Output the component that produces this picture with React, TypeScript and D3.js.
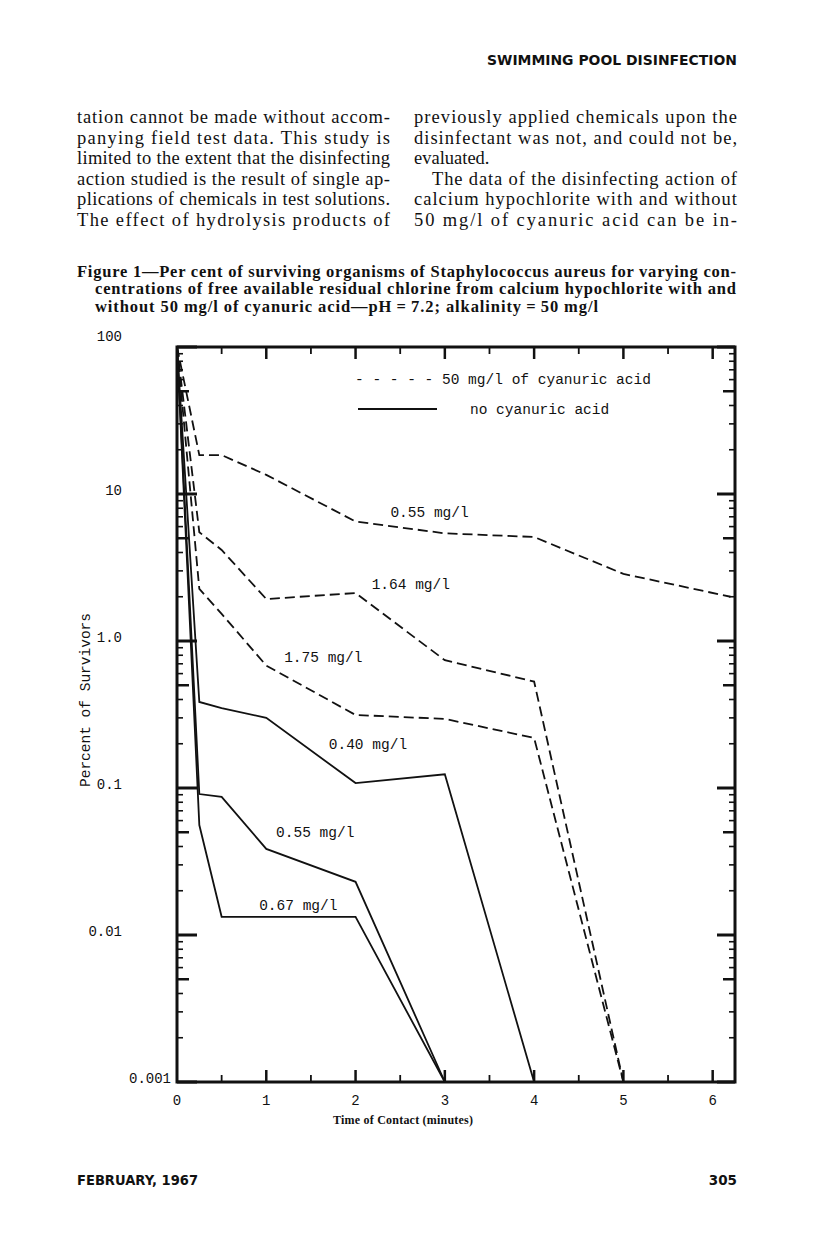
import React from "react";
import * as d3 from "d3";

// time of contact (minutes) for each curve
const timesCya055 = [0, 0.25, 0.5, 1, 2, 3, 4, 5, 6.2];
const timesCya = [0, 0.25, 0.5, 1, 2, 3, 4, 5];
const timesNo040 = [0, 0.25, 0.5, 1, 2, 3, 4];
const timesNo = [0, 0.25, 0.5, 1, 2, 3];

// per cent of survivors, 50 mg/l cyanuric acid (dashed)
const cya055 = [100, 18.4, 18.4, 13.5, 6.5, 5.4, 5.1, 2.86, 2.0];
const cya164 = [100, 5.5, 4.16, 1.93, 2.12, 0.74, 0.53, 0.001];
const cya175 = [100, 2.26, 1.53, 0.68, 0.314, 0.295, 0.219, 0.001];

// per cent of survivors, no cyanuric acid (solid)
const no040 = [100, 0.385, 0.35, 0.3, 0.108, 0.124, 0.001];
const no055 = [100, 0.091, 0.087, 0.0385, 0.023, 0.001];
const no067 = [100, 0.056, 0.0133, 0.0133, 0.0133, 0.001];

// curve labels: text, time, per cent
const curveLabels = ["0.55 mg/l", "1.64 mg/l", "1.75 mg/l", "0.40 mg/l", "0.55 mg/l", "0.67 mg/l"];
const labelTimes = [2.39, 2.18, 1.2, 1.7, 1.11, 0.92];
const labelValues = [6.97, 2.26, 0.72, 0.184, 0.0465, 0.0148];

const xTickLabels = ["0", "1", "2", "3", "4", "5", "6"];
const yDecades = [100, 10, 1, 0.1, 0.01, 0.001];
const yTickLabels = ["100", "10", "1.0", "0.1", "0.01", "0.001"];

const leftCol = [
  "tation cannot be made without accom-",
  "panying field test data. This study is",
  "limited to the extent that the disinfecting",
  "action studied is the result of single ap-",
  "plications of chemicals in test solutions.",
  "The effect of hydrolysis products of",
];
const rightCol = [
  "previously applied chemicals upon the",
  "disinfectant was not, and could not be,",
  "evaluated.",
  "The data of the disinfecting action of",
  "calcium hypochlorite with and without",
  "50 mg/l of cyanuric acid can be in-",
];
const caption = [
  "Figure 1\u2014Per cent of surviving organisms of Staphylococcus aureus for varying con-",
  "centrations of free available residual chlorine from calcium hypochlorite with and",
  "without 50 mg/l of cyanuric acid\u2014pH\u2009=\u20097.2; alkalinity\u2009=\u200950 mg/l",
];

const mono = "'Liberation Mono', 'DejaVu Sans Mono', monospace";
const serif = "'Liberation Serif', 'DejaVu Serif', serif";
const sans = "'DejaVu Sans', 'Liberation Sans', sans-serif";

export default function App() {
  const x = d3.scaleLinear().domain([0, 6.25]).range([177, 735]);
  const y = d3.scaleLog().domain([0.001, 100]).range([1082, 347]);
  const [x0, x1] = x.range();
  const [yb, yt] = y.range();

  const line = d3
    .line<[number, number]>()
    .x((d) => x(d[0]))
    .y((d) => y(d[1]));

  const zip = (ts: number[], vs: number[]) => ts.map((t, i) => [t, vs[i]] as [number, number]);

  const dashed = [zip(timesCya055, cya055), zip(timesCya, cya164), zip(timesCya, cya175)];
  const solid = [zip(timesNo040, no040), zip(timesNo, no055), zip(timesNo, no067)];

  // minor + major ticks on the log axis
  const yTicks: { v: number; k: number }[] = [];
  for (const dec of [0.001, 0.01, 0.1, 1, 10]) {
    for (let k = 1; k <= 9; k++) yTicks.push({ v: dec * k, k });
  }
  yTicks.push({ v: 100, k: 1 });
  const tickLen = (k: number) => (k === 1 ? 20 : k === 5 ? 12 : 6);
  const tickW = (k: number) => (k === 1 ? 3 : k === 5 ? 2.5 : 1.6);

  const xTicks = d3.range(1, 13).map((i) => i * 0.5);

  return (
    <svg
      width={816}
      height={1236}
      style={{ position: "absolute", left: 0, top: 0, background: "#fff" }}
    >
      <rect width={816} height={1236} fill="#fff" />

      {/* running header */}
      <text x={737} y={65} textAnchor="end" fontFamily={sans} fontWeight="bold" fontSize={13.5}
        textLength={250} lengthAdjust="spacingAndGlyphs" fill="#111">
        SWIMMING POOL DISINFECTION
      </text>

      {/* body text */}
      <g fontFamily={serif} fontSize={18.5} fill="#111">
        {leftCol.map((s, i) => (
          <text key={i} x={77} y={123 + i * 20.6} textLength={313} lengthAdjust="spacing">{s}</text>
        ))}
        {rightCol.map((s, i) => {
          const xs = i === 3 ? 432 : 414;
          const justify = i !== 2;
          return (
            <text key={i} x={xs} y={123 + i * 20.6}
              {...(justify ? { textLength: 737 - xs, lengthAdjust: "spacing" } : {})}>{s}</text>
          );
        })}
      </g>

      {/* caption */}
      <g fontFamily={serif} fontSize={16.5} fontWeight="bold" fill="#111">
        {caption.map((s, i) => {
          const xs = i === 0 ? 77 : 95;
          const xe = i < 2 ? 736 : 598;
          return (
            <text key={i} x={xs} y={277 + i * 17.3} textLength={xe - xs} lengthAdjust="spacing">{s}</text>
          );
        })}
      </g>

      {/* chart frame */}
      <rect x={x0} y={yt} width={x1 - x0} height={yb - yt} fill="none" stroke="#111" strokeWidth={3} />

      {/* y ticks, left and right, pointing inward */}
      {yTicks.map((d, i) => (
        <g key={i} stroke="#111" strokeWidth={tickW(d.k)}>
          <line x1={x0} x2={x0 + tickLen(d.k)} y1={y(d.v)} y2={y(d.v)} />
          <line x1={x1} x2={x1 - tickLen(d.k) + (d.k === 1 ? 2 : 0)} y1={y(d.v)} y2={y(d.v)} />
        </g>
      ))}

      {/* x ticks, top and bottom */}
      {xTicks.map((t, i) => {
        const major = Number.isInteger(t);
        const len = major ? 12 : 7;
        return (
          <g key={i} stroke="#111" strokeWidth={major ? 2.5 : 1.8}>
            <line x1={x(t)} x2={x(t)} y1={yt} y2={yt + len} />
            <line x1={x(t)} x2={x(t)} y1={yb} y2={yb - len} />
          </g>
        );
      })}

      {/* tick labels */}
      <g fontFamily={mono} fontSize={14} fill="#111">
        {yDecades.map((v, i) => (
          <text key={i} x={v === 0.001 ? 171 : 122} y={y(v) + (v === 100 ? -6 : 1)} textAnchor="end">
            {yTickLabels[i]}
          </text>
        ))}
        {xTickLabels.map((s, i) => (
          <text key={i} x={x(i)} y={1105} textAnchor="middle">{s}</text>
        ))}
      </g>

      {/* axis titles */}
      <text transform="translate(90,700) rotate(-90)" textAnchor="middle" fontFamily={mono}
        fontSize={14.5} fill="#111">
        Percent of Survivors
      </text>
      <text x={403} y={1124} textAnchor="middle" fontFamily={serif} fontWeight="bold" fontSize={12}
        textLength={140} lengthAdjust="spacing" fill="#111">
        Time of Contact (minutes)
      </text>

      {/* curves */}
      {dashed.map((d, i) => (
        <path key={"d" + i} d={line(d) || ""} fill="none" stroke="#111" strokeWidth={1.8}
          strokeDasharray="10,5" />
      ))}
      {solid.map((d, i) => (
        <path key={"s" + i} d={line(d) || ""} fill="none" stroke="#111" strokeWidth={1.8} />
      ))}

      {/* curve labels */}
      <g fontFamily={mono} fontSize={14.5} fill="#111">
        {curveLabels.map((s, i) => (
          <text key={i} x={x(labelTimes[i])} y={y(labelValues[i])}>{s}</text>
        ))}
      </g>

      {/* legend */}
      <g fontFamily={mono} fontSize={14.5} fill="#111">
        <text x={355} y={384}>- - - - - 50 mg/l of cyanuric acid</text>
        <line x1={358} x2={437} y1={409} y2={409} stroke="#111" strokeWidth={1.8} />
        <text x={470} y={414}>no cyanuric acid</text>
      </g>

      {/* footer */}
      <g fontFamily={sans} fontWeight="bold" fontSize={13.5} fill="#111">
        <text x={77} y={1185} textLength={121} lengthAdjust="spacingAndGlyphs">FEBRUARY, 1967</text>
        <text x={737} y={1185} textAnchor="end">305</text>
      </g>
    </svg>
  );
}
